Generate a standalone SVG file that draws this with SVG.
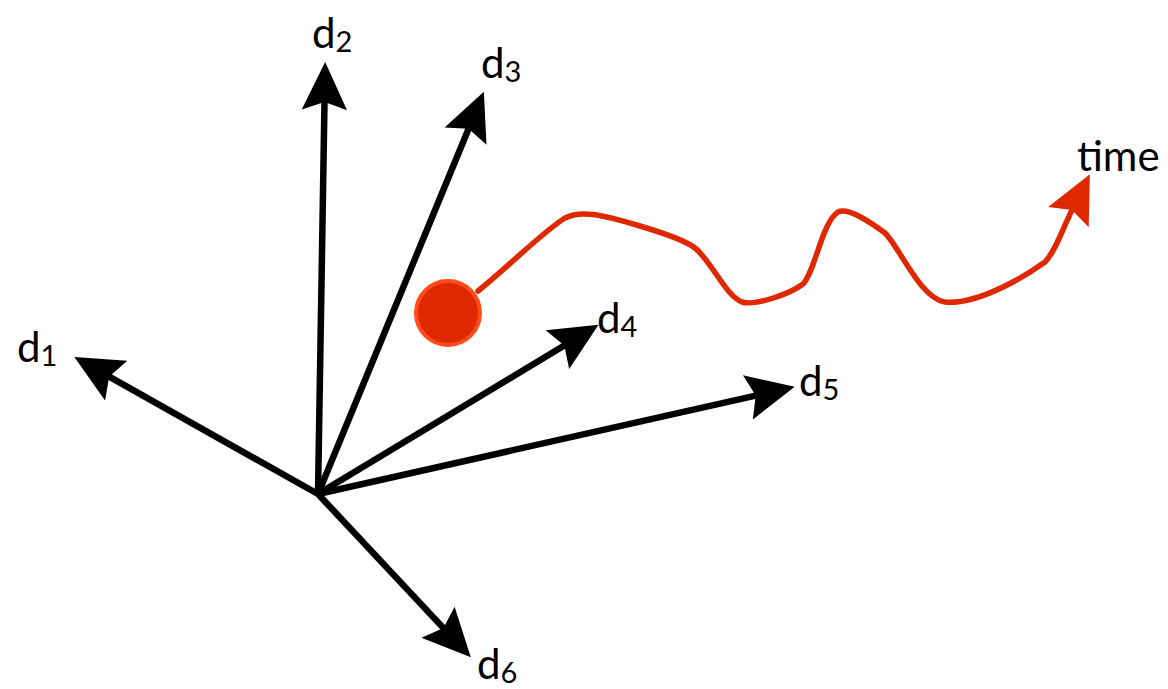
<svg xmlns="http://www.w3.org/2000/svg" width="1168" height="689" viewBox="0 0 1168 689">
<style>
.ax{stroke:#000;stroke-width:6.5;fill:none;marker-end:url(#ah)}
.lbl{font-family:Lato,"Open Sans",sans-serif;font-size:42px;fill:#000}
.sub{font-size:29px}
.tm{stroke:#e02800;stroke-width:5.5;fill:none;stroke-linejoin:round;stroke-linecap:round;marker-end:url(#ahr)}
</style>
<defs>
<marker id="ah" markerUnits="userSpaceOnUse" markerWidth="60" markerHeight="60" viewBox="-10 -20 45 40" refX="0" refY="0" orient="auto" overflow="visible">
<path d="M30,0 L-6,-17 L0,0 L-6,17 Z" fill="#000"/>
</marker>
<marker id="ahr" markerUnits="userSpaceOnUse" markerWidth="60" markerHeight="60" viewBox="-10 -20 45 40" refX="0" refY="0" orient="auto" overflow="visible">
<path d="M30,0 L-6,-17 L0,0 L-6,17 Z" fill="#e02800"/>
</marker>
</defs>
<g id="connectors">
<line class="ax" x1="318" y1="494" x2="109.2" y2="376.7"/>
<line class="ax" x1="318" y1="494" x2="324.5" y2="102"/>
<line class="ax" x1="318" y1="494" x2="468.6" y2="128.7"/>
<line class="ax" x1="318" y1="494" x2="564.3" y2="345.5"/>
<line class="ax" x1="318" y1="494" x2="755.7" y2="395.6"/>
<line class="ax" x1="318" y1="494" x2="443.5" y2="628.1"/>
<path class="tm" d="M478,291 C510,265 545,230 565,218 C580,210 600,214 640,226 C660,232 685,240 695,248 C712,262 725,295 742,302 C755,306 790,294 803,284 C815,272 822,222 838,212 C848,207 870,222 885,233 C900,248 920,298 945,302 C975,305 1020,280 1045,262 C1055,252 1063,228 1072,210"/>
</g>
<g id="point">
<circle cx="448" cy="313" r="32" fill="#e02800" stroke="#ff4d1a" stroke-width="4"/>
</g>
<g id="d1"><text class="lbl" x="17" y="362">d<tspan class="sub" dy="4">1</tspan></text></g>
<g id="d2"><text class="lbl" x="312" y="48">d<tspan class="sub" dy="4">2</tspan></text></g>
<g id="d3"><text class="lbl" x="481" y="78">d<tspan class="sub" dy="4">3</tspan></text></g>
<g id="d4"><text class="lbl" x="597" y="333">d<tspan class="sub" dy="4">4</tspan></text></g>
<g id="d5"><text class="lbl" x="799" y="396">d<tspan class="sub" dy="4">5</tspan></text></g>
<g id="d6"><text class="lbl" x="477" y="679">d<tspan class="sub" dy="4">6</tspan></text></g>
<g id="time"><text class="lbl" x="1077" y="171">time</text></g>
</svg>
